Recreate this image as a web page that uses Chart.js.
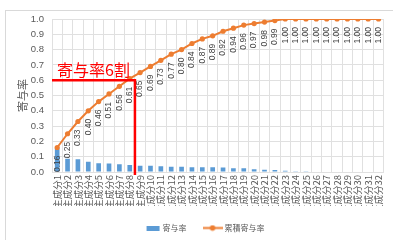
<!DOCTYPE html>
<html><head><meta charset="utf-8">
<script src="https://cdn.jsdelivr.net/npm/chart.js@4/dist/chart.umd.min.js"></script>
<style>html,body{margin:0;padding:0;background:#fff}#wrap{width:393px;height:240px;position:relative}</style>
</head><body><div id="wrap"><canvas id="c" width="393" height="240"></canvas></div>
<script>
const categories = Array.from({length:32},(_,i)=>'主成分'+(i+1));
const contribution = [0.155,0.087,0.083,0.067,0.058,0.055,0.050,0.046,0.041,0.041,0.037,0.035,0.034,0.031,0.031,0.031,0.029,0.025,0.024,0.018,0.015,0.013,0.008,0.002,0.001,0,0,0,0,0,0,0];
const cumulative = [0.16,0.25,0.33,0.40,0.46,0.51,0.56,0.61,0.65,0.69,0.73,0.77,0.80,0.84,0.87,0.89,0.92,0.94,0.96,0.97,0.98,0.99,1.00,1.00,1.00,1.00,1.00,1.00,1.00,1.00,1.00,1.00];
const yTicks = [0,0.1,0.2,0.3,0.4,0.5,0.6,0.7,0.8,0.9,1.0];
const seriesNames = ['寄与率','累積寄与率'];
const thresholdValue = 0.6;
const thresholdIndex = 8;
const annotationText = '寄与率6割';

const BLUE = '#5B9BD5', ORANGE = '#ED7D31', FONT = "'Liberation Sans','Noto Sans CJK JP',sans-serif", CJK = "'Noto Sans CJK JP',sans-serif";
const GRID = '#e0e0e0', TXT = '#595959';

function mkBox(){const c=document.createElement('canvas');c.width=22;c.height=5;const x=c.getContext('2d');x.fillStyle=BLUE;x.fillRect(7,0,13,5);return c;}
function mkLine(){const c=document.createElement('canvas');c.width=20;c.height=7;const x=c.getContext('2d');x.strokeStyle=ORANGE;x.lineWidth=2;x.beginPath();x.moveTo(0,3.5);x.lineTo(20,3.5);x.stroke();x.fillStyle=ORANGE;x.beginPath();x.arc(10,3.5,2.8,0,Math.PI*2);x.fill();return c;}

const extras = {
  id:'extras',
  beforeDraw(chart){
    const ctx=chart.ctx;ctx.save();ctx.strokeStyle='#d9d9d9';ctx.lineWidth=1;
    ctx.strokeRect(5.5,10.5,400,240);ctx.restore();
  },
  afterDatasetsDraw(chart){
    const ctx=chart.ctx, meta=chart.getDatasetMeta(1);
    ctx.save();
    ctx.font="8.5px "+FONT;ctx.fillStyle='#404040';ctx.textAlign='right';ctx.textBaseline='middle';
    meta.data.forEach((p,i)=>{
      ctx.save();ctx.translate(p.x,p.y+8);ctx.rotate(-Math.PI/2);
      ctx.fillText(cumulative[i].toFixed(2),0,0);ctx.restore();
    });
    const xs=chart.scales.x, ys=chart.scales.y, ca=chart.chartArea;
    const bx=(xs.getPixelForValue(thresholdIndex-1)+xs.getPixelForValue(thresholdIndex))/2;
    const by=ys.getPixelForValue(thresholdValue);
    ctx.strokeStyle='#FF0000';ctx.lineWidth=2.5;ctx.beginPath();
    ctx.moveTo(ca.left,by);ctx.lineTo(bx,by);ctx.lineTo(bx,ca.bottom+3);ctx.stroke();
    ctx.fillStyle='#FF0000';ctx.font="16px "+CJK;ctx.textAlign='left';ctx.textBaseline='alphabetic';
    ctx.fillText(annotationText,ca.left+5,by-4);
    ctx.restore();
  }
};

new Chart(document.getElementById('c'),{
  type:'bar',
  data:{labels:categories,datasets:[
    {type:'bar',label:seriesNames[0],data:contribution,backgroundColor:BLUE,categoryPercentage:1,barPercentage:0.45,order:2},
    {type:'line',label:seriesNames[1],data:cumulative,borderColor:ORANGE,backgroundColor:ORANGE,borderWidth:2,pointRadius:2.6,pointBackgroundColor:ORANGE,pointBorderWidth:0,order:1}
  ]},
  options:{
    responsive:false,animation:false,devicePixelRatio:1,
    layout:{padding:{left:16,right:2,top:19,bottom:-2}},
    plugins:{
      tooltip:{enabled:false},
      legend:{position:'bottom',labels:{usePointStyle:true,pointStyleWidth:16,padding:18,color:TXT,font:{family:CJK,size:8}},
        generateLabels:undefined}
    },
    scales:{
      x:{grid:{color:GRID,drawTicks:false,offset:true},border:{color:GRID},
        ticks:{autoSkip:false,maxRotation:90,minRotation:90,padding:3,color:TXT,font:{family:CJK,size:9.5}},
        afterFit:s=>{s.height=34;}},
      y:{min:0,max:1,grid:{color:GRID,drawTicks:false},border:{display:false},
        afterBuildTicks:s=>{s.ticks=yTicks.map(v=>({value:v}));},
        ticks:{padding:8,color:TXT,font:{family:FONT,size:9.5},callback:v=>Number(v).toFixed(1)},
        title:{display:true,text:seriesNames[0],color:TXT,padding:0,font:{family:CJK,size:11}},
        afterFit:s=>{s.width=36;}}
    }
  },
  plugins:[extras]
});
// custom legend symbols through the library's legend
Chart.getChart('c').options.plugins.legend.labels.generateLabels = ()=>[
  {text:seriesNames[0],pointStyle:mkBox(),fontColor:TXT,lineWidth:0,datasetIndex:0},
  {text:seriesNames[1],pointStyle:mkLine(),fontColor:TXT,lineWidth:0,datasetIndex:1}
];
Chart.getChart('c').update();
</script></body></html>
